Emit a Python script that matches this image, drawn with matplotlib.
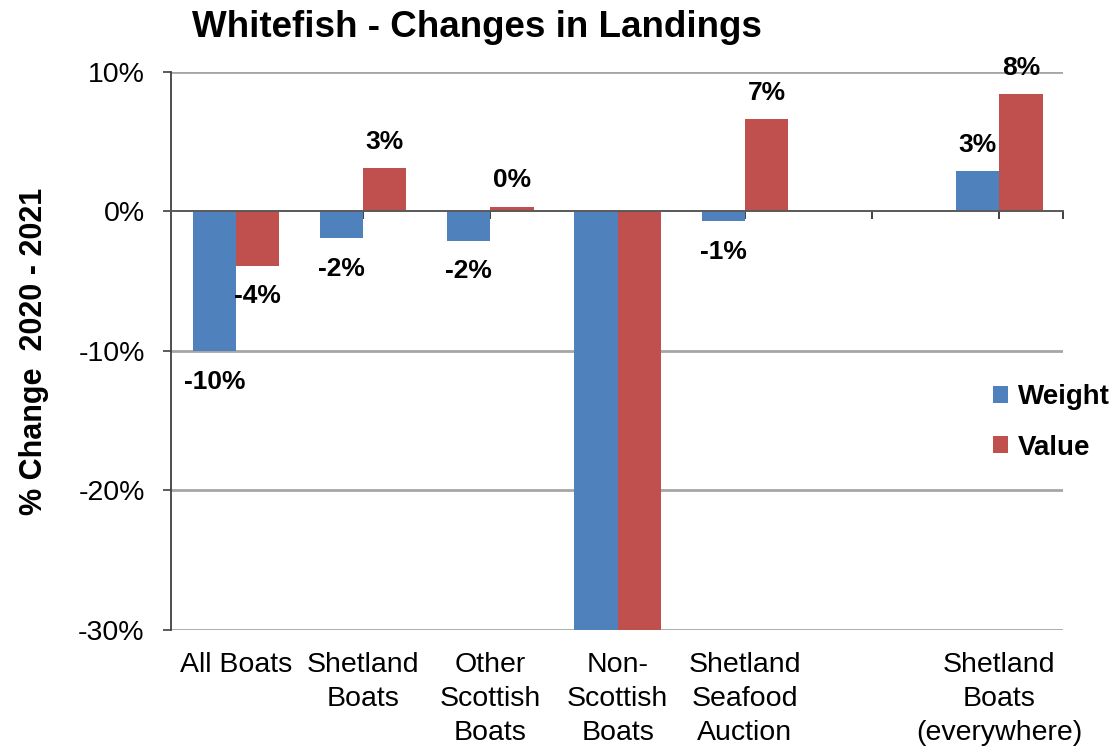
import matplotlib.pyplot as plt
import numpy as np

plt.rcParams["font.family"] = ["Liberation Sans", "DejaVu Sans"]

# categories (one blank slot before the last group)
categories = ["All Boats", "Shetland\nBoats", "Other\nScottish\nBoats",
              "Non-\nScottish\nBoats", "Shetland\nSeafood\nAuction", "",
              "Shetland\nBoats\n(everywhere)"]
weight = [-10.0, -1.9, -2.1, -36.0, -0.7, np.nan, 2.9]
value = [-3.9, 3.1, 0.35, -37.0, 6.6, np.nan, 8.4]
yticks = [10, 0, -10, -20, -30]

BLUE = "#4F81BD"
RED = "#C0504D"
GRID = "#A6A6A6"

fig = plt.figure(figsize=(11.18, 7.49), dpi=100)
ax = fig.add_axes([0.153, 0.1589, 0.7978, 0.745])

x = np.arange(len(categories))
bw = 0.34
ax.bar(x - bw / 2, weight, bw, color=BLUE, label="Weight", zorder=3)
ax.bar(x + bw / 2, value, bw, color=RED, label="Value", zorder=3)

ax.set_xlim(-0.51, 6.5)
ax.set_ylim(-30, 10)

# gridlines
for yv in yticks:
    if yv != 0:
        ax.axhline(yv, color=GRID, lw=2, zorder=1)

# data labels
def label_bars(xs, vals):
    for xi, v in zip(xs, vals):
        if np.isnan(v) or v < -30:
            continue
        off = 19 if v >= 0 else -22
        ax.annotate(f"{round(v):d}%", (xi, v), xytext=(0, off),
                    textcoords="offset points", ha="center", va="center",
                    fontsize=19, fontweight="bold", zorder=5)

label_bars(x - bw / 2, weight)
label_bars(x + bw / 2, value)

# spines: left axis and a zero line carrying category ticks
for s in ["top", "right"]:
    ax.spines[s].set_visible(False)
ax.spines["left"].set_color("#404040")
ax.spines["left"].set_linewidth(1.3)
ax.spines["bottom"].set_position(("data", 0))
ax.spines["bottom"].set_color("#595959")
ax.spines["bottom"].set_linewidth(1.4)
ax.spines["bottom"].set_zorder(4)

ax.set_xticks(list(x) + [6.5])
ax.tick_params(axis="x", direction="out", length=6, width=1.2,
               color="#202020", labelbottom=False)
ax.set_yticks(yticks)
ax.set_yticklabels([f"{t}%" for t in yticks], fontsize=20.5)
ax.tick_params(axis="y", direction="out", length=6, width=1.2,
               color="#404040", pad=13)

# category names under the plot
for xi, name in zip(x, categories):
    ax.text(xi, -0.04, name, transform=ax.get_xaxis_transform(),
            ha="center", va="top", fontsize=20.5, linespacing=1.38)

ax.set_ylabel("% Change  2020 - 2021", fontsize=22, fontweight="bold")
ax.yaxis.set_label_coords(-0.137, 0.5)

fig.text(0.427, 0.963, "Whitefish - Changes in Landings", ha="center",
         va="center", fontsize=26.5, fontweight="bold")

ax.legend(loc="center left", bbox_to_anchor=(0.893, 0.372), frameon=False,
          prop={"size": 20, "weight": "bold"}, handlelength=0.55,
          handleheight=0.55, handletextpad=0.35, labelspacing=0.88)

fig.savefig("out.png", dpi=100)
